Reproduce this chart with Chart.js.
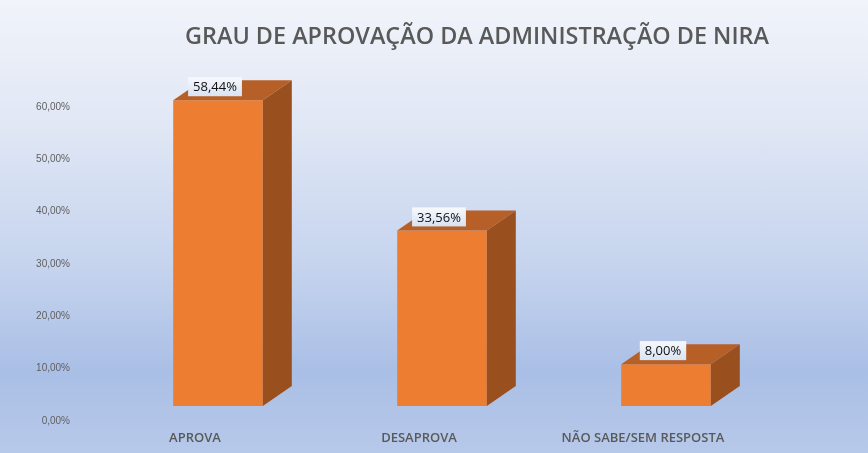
<!DOCTYPE html>
<html lang="pt">
  <head>
    <meta charset="UTF-8" />
    <title>Grau de aprovação da administração de Nira</title>
    <script src="https://cdn.jsdelivr.net/npm/chart.js@4.4.0/dist/chart.umd.min.js"></script>
    <style>
      html, body { margin: 0; padding: 0; }
      #wrap {
        position: relative; width: 868px; height: 453px;
        background: linear-gradient(to bottom, #f1f4fa 0%, #e0e7f5 28%, #c6d4ee 58%, #aabfe6 82%, #b7c9ea 100%);
      }
    </style>
  </head>
  <body>
    <div id="wrap"><canvas id="myChart" width="868" height="453"></canvas></div>

    <script>
      const categorias = ['APROVA', 'DESAPROVA', 'NÃO SABE/SEM RESPOSTA'];
      const percentuais = [58.44, 33.56, 8.00];
      const yTicks = [0, 10, 20, 30, 40, 50, 60];

      const fmt = v => v.toFixed(2).replace('.', ',') + '%';

      // side + top faces and the value boxes
      const caixa3d = {
        id: 'caixa3d',
        afterDatasetsDraw(chart) {
          const ctx = chart.ctx;
          const dx = 29, dy = 20;
          chart.getDatasetMeta(0).data.forEach((bar, i) => {
            const { x, y, base, width } = bar.getProps(['x', 'y', 'base', 'width'], true);
            const l = x - width / 2, r = x + width / 2;
            ctx.save();
            ctx.fillStyle = '#b65f26';
            ctx.beginPath();
            ctx.moveTo(l, y); ctx.lineTo(l + dx, y - dy); ctx.lineTo(r + dx, y - dy); ctx.lineTo(r, y);
            ctx.closePath(); ctx.fill();
            ctx.fillStyle = '#9a4f1f';
            ctx.beginPath();
            ctx.moveTo(r, y); ctx.lineTo(r + dx, y - dy); ctx.lineTo(r + dx, base - dy); ctx.lineTo(r, base);
            ctx.closePath(); ctx.fill();

            const txt = fmt(percentuais[i]);
            ctx.font = '13px "Open Sans"';
            const w = ctx.measureText(txt).width + 10, h = 19;
            const bx = x - 3 - w / 2, by = y - 4 - h;
            const g = ctx.createLinearGradient(0, by, 0, by + h);
            g.addColorStop(0, '#f7f9fd');
            g.addColorStop(1, '#d9e3f3');
            ctx.fillStyle = g;
            ctx.fillRect(bx, by, w, h);
            ctx.fillStyle = '#111';
            ctx.textAlign = 'center';
            ctx.textBaseline = 'middle';
            ctx.fillText(txt, x - 3, by + h / 2 + 1);
            ctx.restore();
          });
        },
        afterLayout(chart) {
          // title sits right of centre in the original
          chart.titleBlock.left += 88;
          chart.titleBlock.right += 88;
        }
      };

      const ctx = document.getElementById('myChart').getContext('2d');
      new Chart(ctx, {
        type: 'bar',
        data: {
          labels: categorias,
          datasets: [{
            data: percentuais,
            backgroundColor: '#ed7d31',
            borderWidth: 0,
            barPercentage: 0.4,
            categoryPercentage: 1
          }]
        },
        options: {
          responsive: false,
          animation: false,
          layout: { padding: { left: 0, right: 90, top: 0, bottom: 8 } },
          plugins: {
            legend: { display: false },
            tooltip: { enabled: false },
            title: {
              display: true,
              text: 'GRAU DE APROVAÇÃO DA ADMINISTRAÇÃO DE NIRA',
              color: '#595959',
              font: { family: '"Open Sans"', size: 23.4, weight: '600' },
              padding: { top: 23, bottom: 41 }
            }
          },
          scales: {
            x: {
              offset: true,
              grid: { display: false, drawTicks: false },
              border: { display: false },
              afterFit: s => { s.height = 39; },
              ticks: {
                color: '#595959',
                padding: 24,
                labelOffset: -23,
                font: { family: '"Open Sans"', size: 13, weight: '600' }
              }
            },
            y: {
              min: 0,
              max: 60,
              grid: { display: false, drawTicks: false },
              border: { display: false },
              afterBuildTicks: s => { s.ticks = yTicks.map(v => ({ value: v })); },
              afterFit: s => { s.width = 106; },
              ticks: {
                color: '#606060',
                padding: 36,
                labelOffset: 15,
                font: { family: '"Liberation Sans"', size: 10 },
                callback: v => fmt(v)
              }
            }
          }
        },
        plugins: [caixa3d]
      });
    </script>
  </body>
</html>
